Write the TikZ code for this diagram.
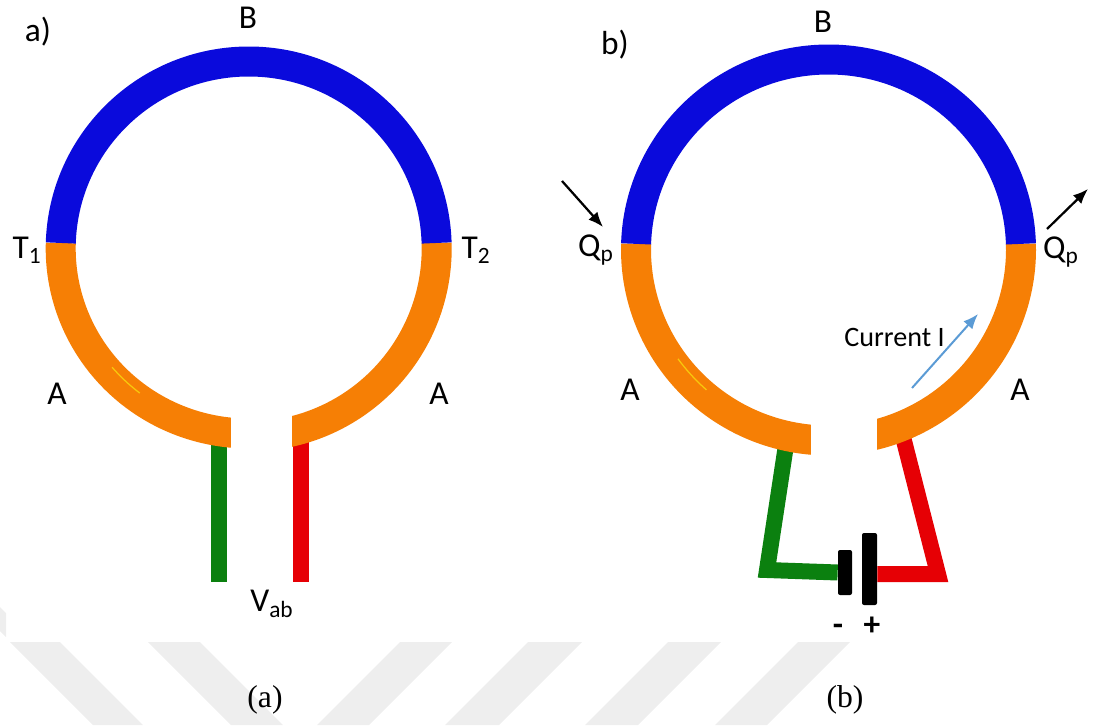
\documentclass[tikz,border=0pt]{standalone}
\usepackage{xcolor}
\usepackage{fontspec}
\setmainfont{Carlito}
\newfontfamily\capfont{Liberation Serif}
\usetikzlibrary{arrows.meta,positioning}
\definecolor{ringblue}{HTML}{0A0ADC}
\definecolor{ringorange}{HTML}{F67F05}
\definecolor{wiregreen}{HTML}{0B800F}
\definecolor{wirered}{HTML}{E60005}
\definecolor{markgray}{HTML}{EEEEEE}
\definecolor{flowblue}{HTML}{5B9BD5}

\begin{document}
\begin{tikzpicture}[
  x=0.2mm,y=0.2mm,
  bluepart/.style={draw=ringblue,line width=6mm},
  orangepart/.style={draw=ringorange,line width=6mm},
  streak/.style={draw=yellow!60!ringorange,line width=0.25mm},
  greenwire/.style={draw=wiregreen,line width=3.2mm},
  redwire/.style={draw=wirered,line width=3.2mm},
  plate/.style={fill=black,rectangle,rounded corners=0.4mm,inner sep=0pt},
  label/.style={font=\fontsize{19}{22}\selectfont,inner sep=0pt},
  caption/.style={font=\capfont\fontsize{18}{21}\selectfont,inner sep=0pt},
  heat/.style={-{Latex[length=3mm,width=2.4mm]},line width=0.45mm,black},
  flow/.style={-{Latex[length=3mm,width=2.4mm]},line width=0.4mm,flowblue}
]
\useasboundingbox (0,0) rectangle (1094,725);
% watermark
\foreach \xa/\xb in {10/60,148/200}
  \fill[markgray] (\xa,83) -- (\xb,83) -- (\xb+83,0) -- (\xa+83,0) -- cycle;
\foreach \xa/\xb in {400/452,528/582,668/721,798/850}
  \fill[markgray] (\xa,83) -- (\xb,83) -- (\xb-83,0) -- (\xa-83,0) -- cycle;
\fill[markgray] (0,118) -- (6,112) -- (6,88) -- (0,94) -- cycle;

% ring a
\coordinate (ringa) at (248.7,476.5);
\coordinate (greenatop) at (219,285);
\coordinate (greenaend) at (219,143);
\coordinate (redatop) at (301,290);
\coordinate (redaend) at (301,143);
\draw[greenwire] (greenatop) -- (greenaend);
\draw[redwire] (redatop) -- (redaend);
\draw[orangepart] ([shift={(178.3:3.76cm and 3.7cm)}]ringa) arc[start angle=178.3,end angle=272,x radius=3.76cm,y radius=3.7cm];
\draw[orangepart] ([shift={(268:3.76cm and 3.76cm)}]ringa) arc[start angle=268,end angle=361.7,x radius=3.76cm,y radius=3.76cm];
\fill[white] (231,250) rectangle (292,340);
\draw[bluepart] ([shift={(1.7:3.76cm and 3.74cm)}]ringa) arc[start angle=1.7,end angle=178.3,x radius=3.76cm,y radius=3.74cm];
\draw[streak] ([shift={(221:3.62cm)}]ringa) arc[start angle=221,end angle=233,radius=3.62cm];

\node[label] (labela) at (38,693) {a)};
\node[label] (topa) at (248,707) {B};
\node[label] (tempone) at (27,475) {T\textsubscript{1}};
\node[label] (temptwo) at (476,475) {T\textsubscript{2}};
\node[label] (lefta) at (57,331) {A};
\node[label] (righta) at (439,331) {A};
\node[label] (volt) at (272,121) {V\textsubscript{ab}};
\node[caption] (capa) at (265,25) {(a)};

% ring b
\coordinate (ringb) at (828.5,475.5);
\node[plate,minimum width=2.8mm,minimum height=9mm] (batneg) at (845,152.5) {};
\node[plate,minimum width=3mm,minimum height=14.4mm] (batpos) at (869.5,156) {};
\coordinate (greenbtop) at (786,280);
\coordinate (greenbcorner) at (767,155);
\coordinate (redbtop) at (902,292);
\coordinate (redbcorner) at (938,151);
\draw[greenwire] (greenbtop) -- (greenbcorner) -- (batneg.west);
\draw[redwire] (redbtop) -- (redbcorner) -- (redbcorner -| batpos.east);
\draw[orangepart] ([shift={(178.3:3.85cm and 3.82cm)}]ringb) arc[start angle=178.3,end angle=272,x radius=3.85cm,y radius=3.82cm];
\draw[orangepart] ([shift={(268:3.85cm and 3.82cm)}]ringb) arc[start angle=268,end angle=361.7,x radius=3.85cm,y radius=3.82cm];
\fill[white] (811,250) rectangle (877,340);
\draw[bluepart] ([shift={(1.7:3.85cm and 3.8cm)}]ringb) arc[start angle=1.7,end angle=178.3,x radius=3.85cm,y radius=3.8cm];
\draw[streak] ([shift={(216:3.72cm)}]ringb) arc[start angle=216,end angle=229,radius=3.72cm];

\node[label] (labelb) at (615,680) {b)};
\node[label] (topb) at (823,703) {B};
\node[label] (heatin) at (596,475) {Q\textsubscript{p}};
\node[label] (heatout) at (1061,473) {Q\textsubscript{p}};
\node[label] (leftb) at (630,335) {A};
\node[label] (rightb) at (1020,335) {A};
\node[label,font=\fontsize{16}{19}\selectfont] (current) at (894.5,388) {Current I};
\node[label,font=\bfseries\fontsize{19}{22}\selectfont] (minus) at (838,95) {-};
\node[label,font=\bfseries\fontsize{19}{22}\selectfont] (plus) at (872,99) {+};
\node[caption] (capb) at (845,25) {(b)};

\coordinate (heatinstart) at (562,544);
\coordinate (heatinend) at (603,498);
\coordinate (heatoutstart) at (1047,496);
\coordinate (heatoutend) at (1088,536);
\coordinate (currentstart) at (912,337);
\coordinate (currentend) at (978,411);
\draw[heat] (heatinstart) -- (heatinend);
\draw[heat] (heatoutstart) -- (heatoutend);
\draw[flow] (currentstart) -- (currentend);
\end{tikzpicture}
\end{document}
